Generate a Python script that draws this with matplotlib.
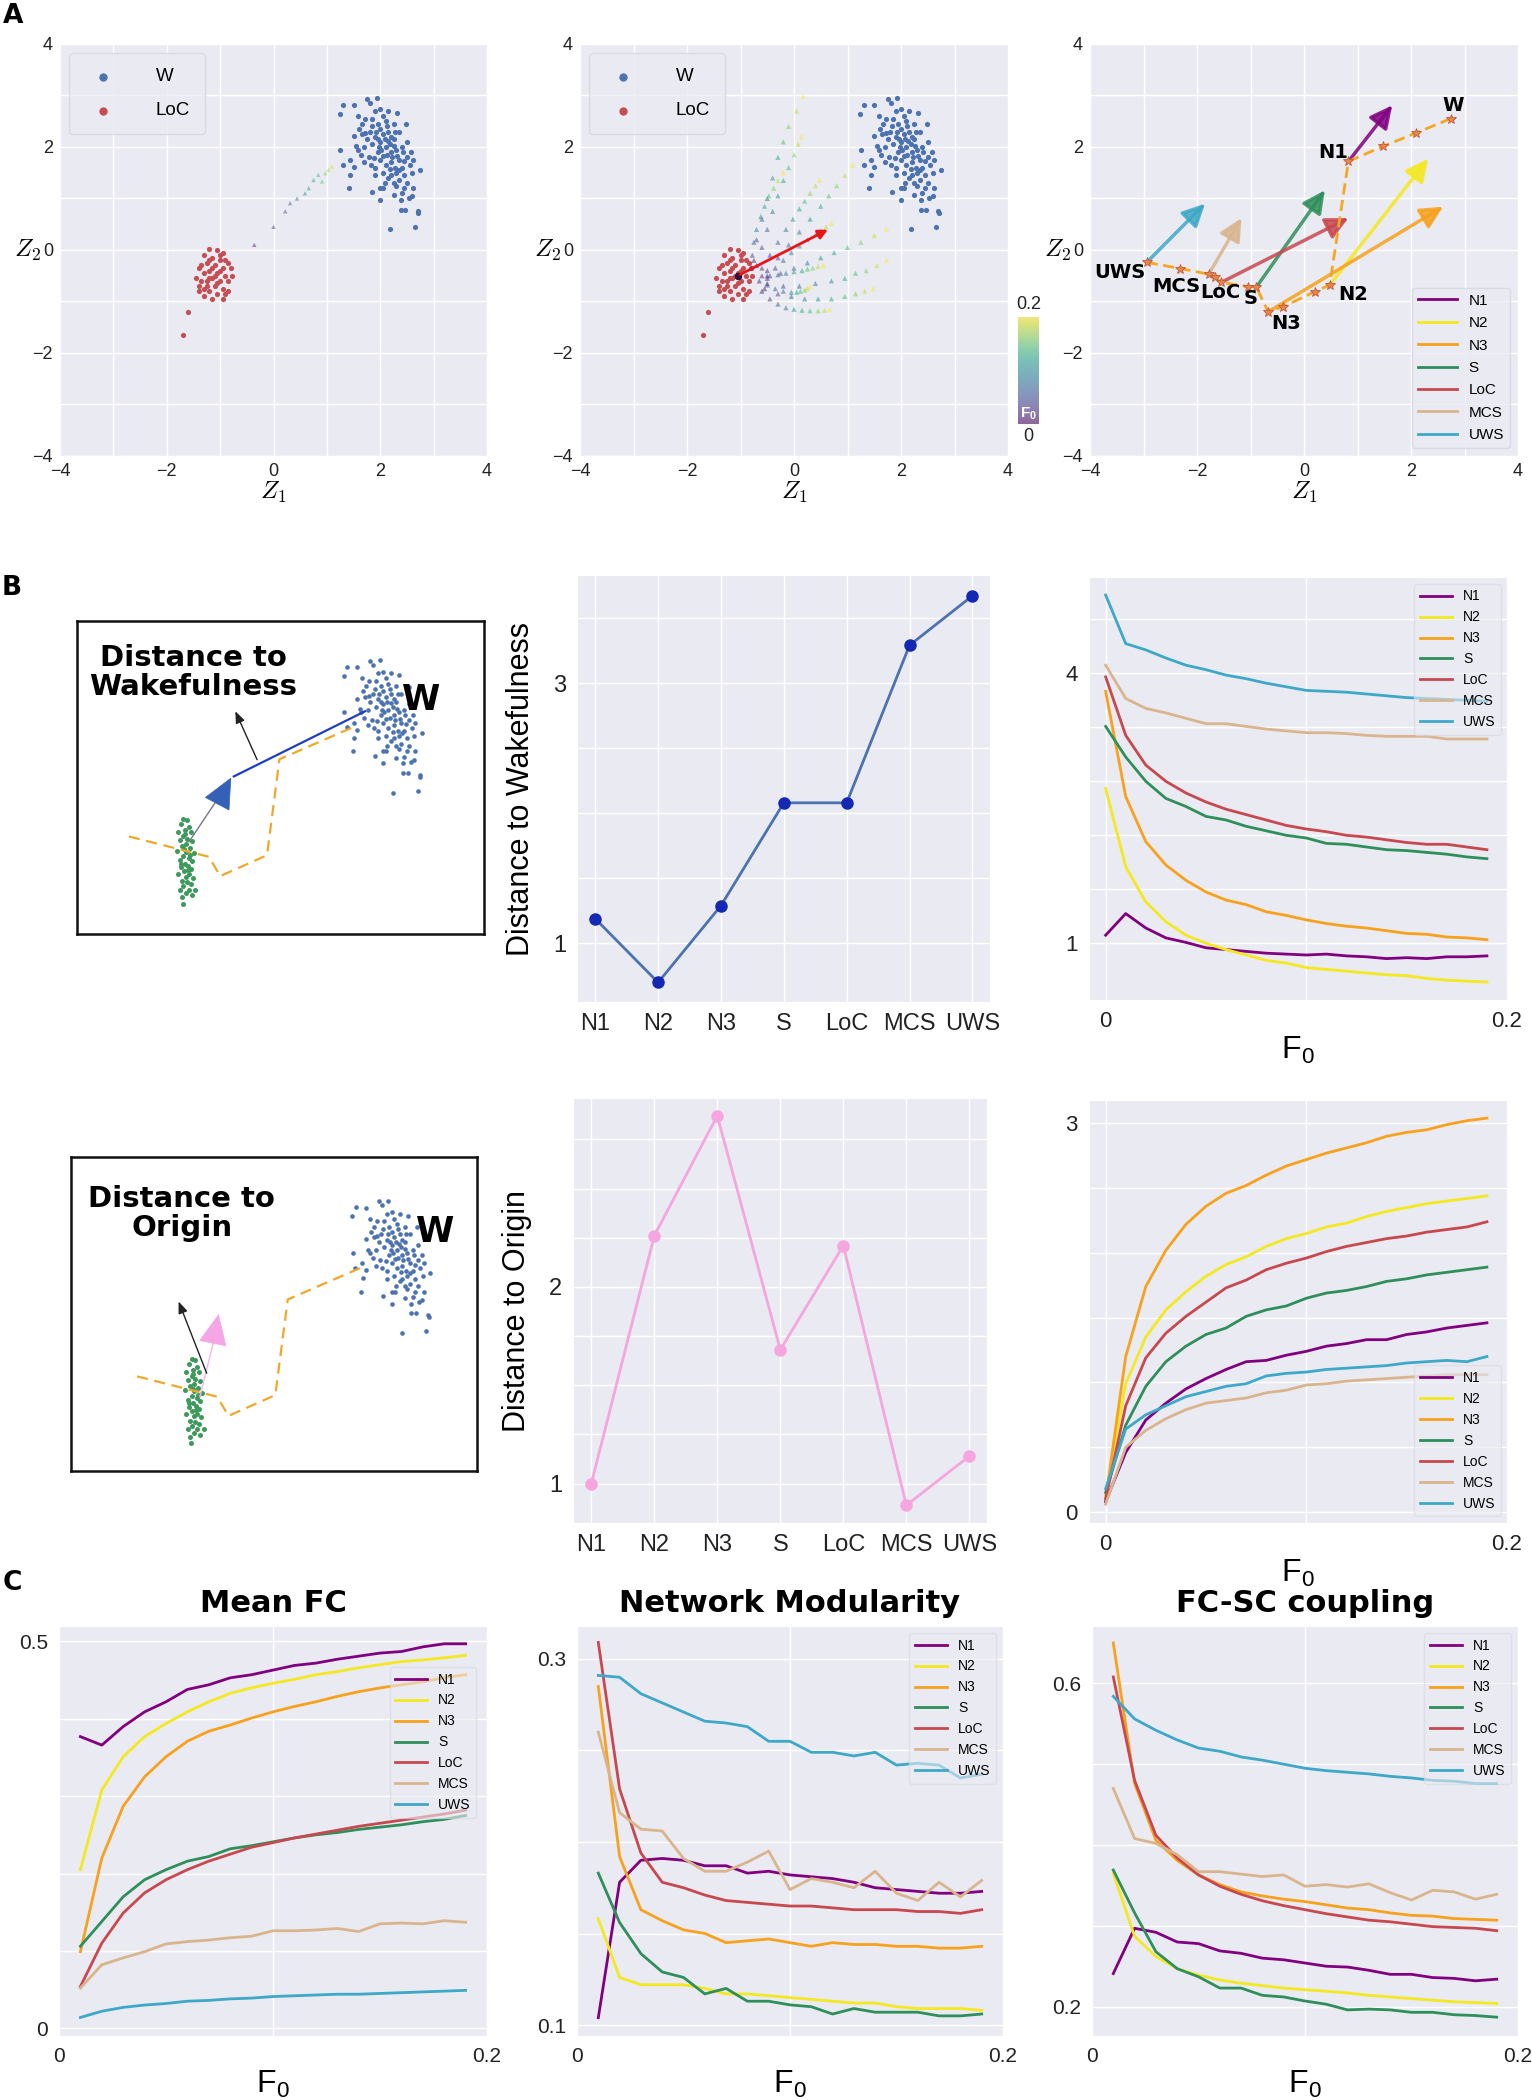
import matplotlib
matplotlib.use("Agg")
import matplotlib.pyplot as plt
from matplotlib.colors import ListedColormap, Normalize
from matplotlib.cm import ScalarMappable
import numpy as np

plt.rcParams['font.family'] = ['Liberation Sans', 'DejaVu Sans']
plt.rcParams['mathtext.fontset'] = 'cm'
plt.rcParams['axes.facecolor'] = '#eaeaf2'
plt.rcParams['axes.edgecolor'] = 'white'
plt.rcParams['axes.grid'] = True
plt.rcParams['axes.axisbelow'] = True
plt.rcParams['grid.color'] = 'white'
plt.rcParams['grid.linewidth'] = 1.0
plt.rcParams['xtick.major.size'] = 0
plt.rcParams['ytick.major.size'] = 0
plt.rcParams['xtick.color'] = '#222222'
plt.rcParams['ytick.color'] = '#222222'
plt.rcParams['legend.edgecolor'] = '#d6d6de'
plt.rcParams['legend.facecolor'] = '#eaeaf2'

# ---------------- data ----------------
states = ['N1', 'N2', 'N3', 'S', 'LoC', 'MCS', 'UWS']
state_colors = ['#800080', '#f4e820', '#f7a11c', '#2f8f5b', '#c8484f', '#d9b58e', '#3ea8c8']

# panel A: latent space clouds
w_points = [(1.31, 2.82), (1.24, 2.65), (1.50, 2.81), (1.75, 2.94), (1.93, 2.95), (1.81, 2.86),
            (2.00, 2.73), (2.31, 2.66), (2.49, 2.44), (1.25, 1.95), (1.30, 1.66), (1.41, 1.20),
            (1.84, 1.12), (2.00, 0.97), (2.19, 0.40), (2.38, 0.78), (2.47, 0.78), (2.66, 0.45),
            (2.71, 0.71), (2.70, 0.75), (2.74, 1.55), (2.62, 1.20), (2.59, 1.04), (2.53, 1.00),
            (2.38, 0.97), (2.25, 1.07), (2.06, 1.20), (1.43, 1.75), (1.44, 1.46), (1.50, 1.62),
            (1.59, 2.60), (1.66, 2.45), (1.72, 2.27), (1.50, 2.21), (1.55, 2.01), (1.63, 1.85),
            (1.80, 2.30), (1.90, 2.20), (2.00, 2.10), (2.10, 2.00), (2.20, 1.90), (1.95, 1.90),
            (2.05, 2.25), (2.15, 2.30), (1.85, 2.05), (1.75, 2.15), (2.25, 2.15), (2.30, 1.95),
            (2.35, 1.75), (2.20, 1.70), (2.10, 1.65), (2.00, 1.75), (1.90, 1.60), (2.40, 1.60),
            (2.45, 1.45), (2.30, 1.50), (2.20, 1.45), (2.35, 1.35), (2.50, 1.30), (2.45, 1.20),
            (2.30, 1.25), (2.15, 1.40), (2.05, 1.50), (1.95, 2.45), (2.10, 2.50), (1.85, 2.55),
            (1.70, 2.00), (1.65, 2.25), (2.40, 2.00), (2.50, 1.80), (2.55, 1.65), (2.60, 1.50),
            (2.00, 2.35), (1.78, 1.80), (2.25, 2.45), (1.90, 2.70), (2.05, 2.60), (2.20, 2.20),
            (2.12, 1.85), (1.98, 2.00), (2.28, 1.60), (2.18, 2.05), (2.42, 1.90), (1.60, 2.35),
            (1.72, 2.55), (2.35, 2.30), (2.50, 2.10), (2.62, 1.75), (2.08, 1.30), (1.90, 1.45),
            (1.82, 1.65), (2.58, 1.90), (2.00, 1.20), (2.40, 1.10), (1.70, 1.70), (2.15, 2.70),
            (1.58, 1.95), (2.25, 1.30), (2.08, 2.15), (1.92, 2.30), (2.32, 1.82), (2.18, 1.58),
            (2.02, 1.95), (2.14, 2.12), (2.26, 2.02), (1.88, 1.78), (2.36, 1.55), (2.22, 1.80),
            (1.96, 2.15), (2.06, 1.82), (2.44, 1.72), (1.84, 2.40), (2.12, 2.40), (2.28, 2.30)]

loc_points = [(-1.20, 0.02), (-1.05, 0.00), (-0.95, -0.05), (-1.30, -0.10), (-1.15, -0.15),
              (-1.00, -0.20), (-0.85, -0.25), (-1.25, -0.25), (-1.40, -0.35), (-1.10, -0.30),
              (-0.95, -0.35), (-0.80, -0.35), (-1.30, -0.45), (-1.20, -0.40), (-1.05, -0.45),
              (-0.90, -0.50), (-1.45, -0.55), (-1.35, -0.60), (-1.15, -0.55), (-1.00, -0.60),
              (-0.85, -0.60), (-1.25, -0.70), (-1.10, -0.70), (-0.95, -0.75), (-1.40, -0.80),
              (-1.20, -0.80), (-1.05, -0.85), (-0.90, -0.85), (-1.30, -0.90), (-1.15, -0.95),
              (-0.95, -0.95), (-1.00, -0.10), (-1.20, -0.55), (-1.05, -0.65), (-1.15, -0.35),
              (-1.25, -0.60), (-0.90, -0.20), (-1.35, -0.30), (-0.78, -0.50), (-1.40, -0.70),
              (-1.00, -0.40), (-1.10, -0.50), (-1.20, -0.20), (-0.85, -0.80), (-1.30, -0.75),
              (-1.60, -1.20), (-1.70, -1.65)]

# single LoC -> W trajectory (panel A, left)
a1_traj = [(-0.36, 0.10), (0.00, 0.45), (0.22, 0.75), (0.31, 0.91), (0.44, 1.00), (0.59, 1.10),
           (0.66, 1.20), (0.75, 1.36), (0.84, 1.46), (0.91, 1.33), (0.97, 1.49), (1.03, 1.56),
           (1.09, 1.62)]
a1_f0 = [0.01, 0.025, 0.04, 0.055, 0.07, 0.085, 0.10, 0.115, 0.13, 0.145, 0.16, 0.175, 0.19]

# fan of trajectories (panel A, middle)
traj_f0 = [0.02, 0.04, 0.06, 0.08, 0.10, 0.12, 0.14, 0.16, 0.18, 0.20]
trajs = [
    [(-0.75, -0.2), (-0.7, 0.2), (-0.6, 0.6), (-0.5, 1.0), (-0.4, 1.4), (-0.3, 1.8), (-0.2, 2.1), (-0.1, 2.4), (0.05, 2.7), (0.17, 2.98)],
    [(-0.7, -0.3), (-0.6, 0.05), (-0.5, 0.4), (-0.4, 0.75), (-0.3, 1.05), (-0.2, 1.35), (-0.1, 1.6), (0.0, 1.85), (0.08, 2.05), (0.14, 2.2)],
    [(-0.8, -0.35), (-0.78, -0.1), (-0.75, 0.15), (-0.7, 0.4), (-0.62, 0.65), (-0.55, 0.85), (-0.47, 1.05), (-0.38, 1.2), (-0.3, 1.35), (-0.2, 1.5)],
    [(-0.6, -0.35), (-0.45, -0.1), (-0.3, 0.15), (-0.15, 0.4), (-0.02, 0.6), (0.1, 0.8), (0.2, 0.95), (0.3, 1.1), (0.4, 1.25), (0.48, 1.36)],
    [(-0.5, -0.4), (-0.3, -0.15), (-0.1, 0.1), (0.1, 0.35), (0.3, 0.6), (0.5, 0.85), (0.65, 1.05), (0.8, 1.25), (0.95, 1.45), (1.1, 1.65)],
    [(-0.5, -0.5), (-0.35, -0.35), (-0.2, -0.2), (-0.05, -0.05), (0.1, 0.08), (0.25, 0.2), (0.4, 0.3), (0.5, 0.38), (0.6, 0.45), (0.7, 0.52)],
    [(-0.5, -0.55), (-0.25, -0.45), (0.0, -0.35), (0.25, -0.25), (0.5, -0.15), (0.75, -0.05), (1.0, 0.05), (1.25, 0.15), (1.5, 0.28), (1.73, 0.4)],
    [(-0.5, -0.65), (-0.2, -0.7), (0.1, -0.7), (0.4, -0.65), (0.7, -0.6), (0.95, -0.55), (1.15, -0.45), (1.35, -0.4), (1.55, -0.3), (1.73, -0.2)],
    [(-0.55, -0.75), (-0.3, -0.85), (-0.05, -0.9), (0.2, -0.95), (0.45, -0.95), (0.7, -0.95), (0.95, -0.9), (1.15, -0.85), (1.32, -0.8), (1.48, -0.75)],
    [(-0.6, -0.8), (-0.45, -0.95), (-0.3, -1.05), (-0.15, -1.12), (0.0, -1.15), (0.15, -1.17), (0.3, -1.18), (0.45, -1.18), (0.57, -1.17), (0.67, -1.16)],
    [(-0.65, -0.6), (-0.5, -0.68), (-0.35, -0.75), (-0.2, -0.8), (-0.05, -0.82), (0.05, -0.82), (0.12, -0.8), (0.2, -0.78), (0.25, -0.75), (0.3, -0.71)],
    [(-0.6, -0.5), (-0.45, -0.5), (-0.3, -0.48), (-0.15, -0.45), (0.0, -0.42), (0.15, -0.4), (0.25, -0.37), (0.35, -0.35), (0.45, -0.32), (0.55, -0.3)],
]
loc_arrow = [(-1.05, -0.50), (0.68, 0.42)]

# panel A right: state centroids, perturbation arrow tips, and the path
arrow_start = [(0.83, 1.72), (0.48, -0.68), (-0.67, -1.20), (-0.89, -0.72), (-1.55, -0.63), (-1.78, -0.47), (-2.94, -0.24)]
arrow_tip = [(1.65, 2.81), (2.32, 1.77), (2.60, 0.84), (0.39, 1.16), (0.83, 0.62), (-1.17, 0.62), (-1.85, 0.90)]
path_x = [-2.94, -2.31, -1.78, -1.67, -1.55, -1.04, -0.89, -0.67, -0.39, 0.20, 0.48, 0.83, 1.47, 2.09, 2.74]
path_y = [-0.24, -0.36, -0.47, -0.52, -0.63, -0.71, -0.72, -1.20, -1.10, -0.81, -0.68, 1.72, 2.01, 2.27, 2.55]
stage_labels = ['W', 'N1', 'N2', 'N3', 'S', 'LoC', 'MCS', 'UWS']
label_xy = [(2.79, 2.80), (0.55, 1.90), (0.92, -0.86), (-0.33, -1.42), (-1.00, -0.95), (-1.57, -0.82), (-2.38, -0.70), (-3.44, -0.44)]

# panel B schematic: sick-state cloud and dashed path
green_points = [(-1.85, -0.10), (-1.78, -0.12), (-1.90, -0.20), (-1.75, -0.25), (-1.82, -0.30), (-1.95, -0.35),
                (-1.70, -0.35), (-1.85, -0.42), (-1.78, -0.48), (-1.92, -0.50), (-1.68, -0.52), (-1.80, -0.58),
                (-1.88, -0.62), (-1.72, -0.65), (-1.98, -0.70), (-1.80, -0.72), (-1.65, -0.75), (-1.85, -0.80),
                (-1.75, -0.85), (-1.92, -0.88), (-1.68, -0.90), (-1.82, -0.95), (-1.76, -1.00), (-1.90, -1.02),
                (-1.70, -1.05), (-1.84, -1.10), (-1.95, -1.15), (-1.74, -1.15), (-1.80, -1.20), (-1.66, -1.22),
                (-1.88, -1.28), (-1.78, -1.30), (-1.70, -1.35), (-1.85, -1.38), (-1.75, -1.45), (-1.92, -1.45),
                (-1.62, -1.45), (-1.80, -1.52), (-1.88, -1.60), (-1.68, -1.55), (-1.86, -1.72), (-1.82, -0.38),
                (-1.73, -0.78), (-1.90, -0.95), (-1.77, -1.08), (-1.83, -0.68)]
sch_path_x = [-2.90, -1.36, -1.14, -0.24, 0.00, 1.50]
sch_path_y = [-0.43, -0.82, -1.19, -0.79, 1.05, 1.70]

# panel B: distances per state
dist_wake = [1.19, 0.70, 1.29, 2.08, 2.08, 3.29, 3.67]
dist_origin = [1.00, 2.26, 2.87, 1.68, 2.21, 0.89, 1.14]

f0_b = [0.00, 0.01, 0.02, 0.03, 0.04, 0.05, 0.06, 0.07, 0.08, 0.09,
        0.10, 0.11, 0.12, 0.13, 0.14, 0.15, 0.16, 0.17, 0.18, 0.19]
wake_n1 = [1.09, 1.33, 1.17, 1.06, 1.01, 0.95, 0.93, 0.91, 0.89, 0.88, 0.87, 0.88, 0.86, 0.85, 0.83, 0.84, 0.83, 0.85, 0.85, 0.86]
wake_n2 = [2.72, 1.85, 1.46, 1.24, 1.09, 1.00, 0.93, 0.87, 0.81, 0.78, 0.73, 0.71, 0.69, 0.67, 0.65, 0.64, 0.61, 0.59, 0.58, 0.57]
wake_n3 = [3.80, 2.63, 2.13, 1.87, 1.70, 1.57, 1.48, 1.43, 1.35, 1.31, 1.26, 1.22, 1.19, 1.17, 1.14, 1.11, 1.10, 1.07, 1.06, 1.04]
wake_s = [3.41, 3.07, 2.80, 2.61, 2.52, 2.41, 2.37, 2.30, 2.25, 2.20, 2.17, 2.11, 2.10, 2.07, 2.04, 2.03, 2.01, 1.99, 1.96, 1.94]
wake_loc = [3.96, 3.31, 2.98, 2.80, 2.67, 2.57, 2.49, 2.43, 2.37, 2.31, 2.27, 2.24, 2.20, 2.18, 2.15, 2.12, 2.10, 2.10, 2.07, 2.04]
wake_mcs = [4.09, 3.72, 3.61, 3.56, 3.50, 3.44, 3.44, 3.41, 3.38, 3.36, 3.34, 3.34, 3.33, 3.31, 3.30, 3.30, 3.30, 3.27, 3.27, 3.27]
wake_uws = [4.87, 4.33, 4.26, 4.17, 4.09, 4.04, 3.98, 3.94, 3.89, 3.85, 3.81, 3.80, 3.79, 3.77, 3.75, 3.73, 3.72, 3.71, 3.70, 3.69]

origin_n1 = [0.08, 0.46, 0.71, 0.84, 0.95, 1.03, 1.10, 1.16, 1.17, 1.21, 1.24, 1.28, 1.30, 1.33, 1.33, 1.37, 1.39, 1.42, 1.44, 1.46]
origin_n2 = [0.13, 0.99, 1.35, 1.56, 1.70, 1.82, 1.91, 1.97, 2.05, 2.11, 2.15, 2.20, 2.23, 2.28, 2.32, 2.35, 2.38, 2.40, 2.42, 2.44]
origin_n3 = [0.10, 1.20, 1.74, 2.02, 2.22, 2.36, 2.46, 2.52, 2.60, 2.67, 2.72, 2.77, 2.81, 2.85, 2.90, 2.93, 2.95, 2.99, 3.02, 3.04]
origin_s = [0.15, 0.67, 0.97, 1.16, 1.28, 1.37, 1.42, 1.51, 1.56, 1.59, 1.65, 1.69, 1.71, 1.74, 1.78, 1.80, 1.83, 1.85, 1.87, 1.89]
origin_loc = [0.10, 0.82, 1.19, 1.38, 1.51, 1.62, 1.73, 1.79, 1.87, 1.92, 1.96, 2.01, 2.05, 2.08, 2.11, 2.13, 2.16, 2.18, 2.20, 2.24]
origin_mcs = [0.06, 0.50, 0.63, 0.72, 0.79, 0.84, 0.86, 0.88, 0.92, 0.94, 0.98, 0.99, 1.01, 1.02, 1.03, 1.04, 1.05, 1.06, 1.06, 1.06]
origin_uws = [0.18, 0.64, 0.75, 0.82, 0.89, 0.93, 0.97, 0.99, 1.05, 1.07, 1.08, 1.10, 1.11, 1.12, 1.13, 1.15, 1.16, 1.17, 1.16, 1.20]

# panel C: graph metrics vs F0
f0_c = [0.01, 0.02, 0.03, 0.04, 0.05, 0.06, 0.07, 0.08, 0.09, 0.10,
        0.11, 0.12, 0.13, 0.14, 0.15, 0.16, 0.17, 0.18, 0.19]
fc_n1 = [0.377, 0.366, 0.390, 0.409, 0.422, 0.438, 0.444, 0.453, 0.457, 0.463, 0.469, 0.472, 0.477, 0.481, 0.485, 0.487, 0.493, 0.497, 0.497]
fc_n2 = [0.205, 0.308, 0.351, 0.377, 0.394, 0.409, 0.422, 0.433, 0.440, 0.446, 0.451, 0.457, 0.461, 0.466, 0.470, 0.474, 0.476, 0.479, 0.482]
fc_n3 = [0.099, 0.220, 0.287, 0.325, 0.351, 0.371, 0.384, 0.392, 0.401, 0.409, 0.416, 0.422, 0.429, 0.435, 0.440, 0.444, 0.448, 0.453, 0.457]
fc_s = [0.106, 0.138, 0.170, 0.192, 0.205, 0.216, 0.222, 0.232, 0.236, 0.241, 0.246, 0.250, 0.253, 0.257, 0.260, 0.263, 0.267, 0.270, 0.275]
fc_loc = [0.054, 0.110, 0.149, 0.175, 0.192, 0.205, 0.216, 0.225, 0.234, 0.240, 0.246, 0.251, 0.256, 0.261, 0.265, 0.269, 0.273, 0.277, 0.282]
fc_mcs = [0.052, 0.082, 0.091, 0.099, 0.109, 0.112, 0.114, 0.117, 0.119, 0.126, 0.126, 0.127, 0.129, 0.125, 0.135, 0.136, 0.135, 0.139, 0.137]
fc_uws = [0.014, 0.022, 0.027, 0.030, 0.032, 0.035, 0.036, 0.038, 0.039, 0.041, 0.042, 0.043, 0.044, 0.044, 0.045, 0.046, 0.047, 0.048, 0.049]

mod_n1 = [0.104, 0.178, 0.190, 0.191, 0.190, 0.187, 0.187, 0.183, 0.184, 0.182, 0.181, 0.180, 0.178, 0.175, 0.174, 0.173, 0.172, 0.172, 0.173]
mod_n2 = [0.158, 0.126, 0.122, 0.122, 0.122, 0.120, 0.117, 0.117, 0.116, 0.115, 0.114, 0.113, 0.112, 0.112, 0.110, 0.109, 0.109, 0.109, 0.108]
mod_n3 = [0.285, 0.192, 0.163, 0.157, 0.152, 0.150, 0.145, 0.146, 0.147, 0.145, 0.143, 0.145, 0.144, 0.144, 0.143, 0.143, 0.142, 0.142, 0.143]
mod_s = [0.183, 0.156, 0.139, 0.129, 0.126, 0.117, 0.120, 0.113, 0.113, 0.111, 0.110, 0.106, 0.109, 0.107, 0.107, 0.107, 0.105, 0.105, 0.106]
mod_loc = [0.309, 0.229, 0.194, 0.178, 0.175, 0.171, 0.168, 0.167, 0.166, 0.165, 0.165, 0.164, 0.163, 0.163, 0.163, 0.162, 0.162, 0.161, 0.163]
mod_mcs = [0.260, 0.216, 0.207, 0.206, 0.191, 0.184, 0.184, 0.189, 0.195, 0.174, 0.180, 0.178, 0.175, 0.184, 0.172, 0.168, 0.178, 0.170, 0.179]
mod_uws = [0.291, 0.290, 0.281, 0.276, 0.271, 0.266, 0.265, 0.263, 0.255, 0.255, 0.249, 0.249, 0.247, 0.249, 0.242, 0.243, 0.242, 0.235, 0.237]

cpl_n1 = [0.241, 0.297, 0.292, 0.280, 0.278, 0.269, 0.266, 0.260, 0.258, 0.254, 0.250, 0.249, 0.245, 0.240, 0.240, 0.236, 0.235, 0.232, 0.234]
cpl_n2 = [0.365, 0.287, 0.262, 0.247, 0.239, 0.233, 0.229, 0.226, 0.223, 0.221, 0.219, 0.217, 0.214, 0.212, 0.210, 0.208, 0.206, 0.205, 0.204]
cpl_n3 = [0.650, 0.476, 0.406, 0.381, 0.363, 0.351, 0.342, 0.337, 0.333, 0.330, 0.326, 0.322, 0.320, 0.316, 0.313, 0.312, 0.309, 0.308, 0.307]
cpl_s = [0.369, 0.316, 0.268, 0.247, 0.237, 0.223, 0.223, 0.214, 0.212, 0.207, 0.203, 0.196, 0.197, 0.196, 0.193, 0.193, 0.190, 0.189, 0.187]
cpl_loc = [0.608, 0.480, 0.412, 0.384, 0.363, 0.349, 0.339, 0.331, 0.325, 0.320, 0.315, 0.311, 0.307, 0.305, 0.302, 0.299, 0.298, 0.297, 0.294]
cpl_mcs = [0.470, 0.408, 0.402, 0.388, 0.367, 0.367, 0.364, 0.361, 0.363, 0.349, 0.351, 0.348, 0.352, 0.341, 0.332, 0.344, 0.342, 0.333, 0.339]
cpl_uws = [0.584, 0.556, 0.542, 0.530, 0.520, 0.516, 0.509, 0.505, 0.500, 0.495, 0.492, 0.490, 0.488, 0.485, 0.483, 0.480, 0.479, 0.476, 0.476]

wake_curves = [wake_n1, wake_n2, wake_n3, wake_s, wake_loc, wake_mcs, wake_uws]
origin_curves = [origin_n1, origin_n2, origin_n3, origin_s, origin_loc, origin_mcs, origin_uws]
fc_curves = [fc_n1, fc_n2, fc_n3, fc_s, fc_loc, fc_mcs, fc_uws]
mod_curves = [mod_n1, mod_n2, mod_n3, mod_s, mod_loc, mod_mcs, mod_uws]
cpl_curves = [cpl_n1, cpl_n2, cpl_n3, cpl_s, cpl_loc, cpl_mcs, cpl_uws]

# ---------------- figure ----------------
FW, FH = 1532, 2100
fig = plt.figure(figsize=(FW / 100, FH / 100), dpi=100, facecolor='white')


def place(x0, y0, x1, y1):
    return fig.add_axes([x0 / FW, 1 - y1 / FH, (x1 - x0) / FW, (y1 - y0) / FH])


F0_LABEL = r'F$_\mathregular{0}$'
blue_w = '#4c72b0'
red_loc = '#c44e52'


def z_axes(ax):
    ax.set_xlim(-4, 4)
    ax.set_ylim(-4, 4)
    t = [-4, -3, -2, -1, 0, 1, 2, 3, 4]
    lab = ['\u22124', '', '\u22122', '', '0', '', '2', '', '4']
    ax.set_xticks(t)
    ax.set_xticklabels(lab)
    ax.set_yticks(t)
    ax.set_yticklabels(lab)
    ax.tick_params(labelsize=13, pad=5)
    ax.set_xlabel(r'$\mathit{Z_1}$', fontsize=18, labelpad=0)
    ax.set_ylabel(r'$\mathit{Z_2}$', fontsize=18, rotation=0, labelpad=4, va='center')


wx, wy = zip(*w_points)
lx, ly = zip(*loc_points)

# A left
ax = place(60, 44, 487, 456)
z_axes(ax)
ax.scatter(wx, wy, s=14, color=blue_w, lw=0, label='W', zorder=3)
ax.scatter(lx, ly, s=14, color=red_loc, lw=0, label='LoC', zorder=3)
tx, ty = zip(*a1_traj)
ax.scatter(tx, ty, c=a1_f0, cmap='viridis', vmin=0, vmax=0.2, marker='^', s=10, alpha=0.45, lw=0, zorder=4)
ax.legend(loc='upper left', fontsize=13.5, markerscale=1.6, handletextpad=1.8, borderpad=0.8,
          labelspacing=0.9, frameon=True)

# A middle
ax = place(580, 44, 1008, 456)
z_axes(ax)
ax.scatter(wx, wy, s=14, color=blue_w, lw=0, label='W', zorder=3)
ax.scatter(lx, ly, s=14, color=red_loc, lw=0, label='LoC', zorder=3)
for tr in trajs:
    px, py = zip(*tr)
    ax.scatter(px, py, c=traj_f0, cmap='viridis', vmin=0, vmax=0.2, marker='^', s=14, alpha=0.5, lw=0, zorder=4)
ax.annotate('', xy=loc_arrow[1], xytext=loc_arrow[0],
            arrowprops=dict(arrowstyle='-|>', color='#e8141c', lw=2, mutation_scale=14), zorder=6)
ax.scatter([loc_arrow[0][0]], [loc_arrow[0][1]], s=20, color='#30103a', zorder=5)
ax.legend(loc='upper left', fontsize=13.5, markerscale=1.6, handletextpad=1.8, borderpad=0.8,
          labelspacing=0.9, frameon=True)

# colorbar between A middle and A right
vir = plt.get_cmap('viridis')(np.linspace(0, 1, 256))
pale = vir * 0.55 + 0.45 * np.array([0.90, 0.88, 0.95, 1.0])
cax = place(1018, 317, 1039, 424)
cb = fig.colorbar(ScalarMappable(norm=Normalize(0, 0.2), cmap=ListedColormap(pale)), cax=cax)
cb.set_ticks([])
cb.outline.set_visible(False)
cax.text(0.5, 1.04, '0.2', transform=cax.transAxes, ha='center', va='bottom', fontsize=13, color='#222222')
cax.text(0.5, -0.04, '0', transform=cax.transAxes, ha='center', va='top', fontsize=13, color='#222222')
cax.text(0.5, 0.1, F0_LABEL, transform=cax.transAxes, ha='center', va='center', fontsize=11,
         color='white', fontweight='bold')

# A right
ax = place(1090, 44, 1518, 456)
z_axes(ax)
for i, st in enumerate(states):
    ax.annotate('', xy=arrow_tip[i], xytext=arrow_start[i],
                arrowprops=dict(arrowstyle='-|>,head_length=0.8,head_width=0.4', color=state_colors[i],
                                lw=2.5, alpha=0.85, mutation_scale=17, shrinkA=0, shrinkB=0), zorder=4)
    ax.plot([], [], color=state_colors[i], lw=2, label=st)
ax.plot(path_x, path_y, color='#f5a623', lw=2, ls=(0, (4, 2)), zorder=5)
ax.plot(path_x, path_y, ls='none', marker='*', ms=7, mfc='#e8864a', mec='#c05a3a', mew=0.6, zorder=6)
for lab, (x, y) in zip(stage_labels, label_xy):
    ax.text(x, y, lab, fontsize=14, fontweight='bold', ha='center', va='center',
            family='DejaVu Sans', color='black', zorder=7)
ax.legend(loc='lower right', fontsize=11, handlelength=2.5, labelspacing=0.55, frameon=True)


# B schematics
def schematic(ax, xlim, ylim):
    ax.set_xlim(*xlim)
    ax.set_ylim(*ylim)
    ax.set_facecolor('white')
    ax.grid(False)
    ax.set_xticks([])
    ax.set_yticks([])
    for sp in ax.spines.values():
        sp.set_visible(True)
        sp.set_color('#111111')
        sp.set_linewidth(1.8)
    gx, gy = zip(*green_points)
    ax.scatter(wx, wy, s=11, color=blue_w, lw=0, zorder=3)
    ax.scatter(gx, gy, s=13, color='#3d9a5c', lw=0, zorder=3)
    ax.plot(sch_path_x, sch_path_y, color='#f0a828', lw=1.6, ls=(0, (5, 3)), zorder=4)


ax = place(77, 621, 484, 934)
schematic(ax, (-3.9, 3.94), (-2.3, 3.7))
ax.plot([-0.88, 1.65], [0.72, 1.97], color='#1f3fbf', lw=1.6, zorder=5)
ax.plot([-1.74, -1.05], [-0.53, 0.50], color='#777788', lw=1.0, zorder=5)
ax.annotate('', xy=(-0.93, 0.70), xytext=(-1.08, 0.42),
            arrowprops=dict(arrowstyle='-|>,head_length=1.3,head_width=0.6', color='#3560b8', lw=0.5,
                            mutation_scale=16, shrinkA=0, shrinkB=0), zorder=6)
ax.annotate('', xy=(-0.85, 1.97), xytext=(-0.43, 1.04),
            arrowprops=dict(arrowstyle='-|>,head_length=0.5,head_width=0.2', color='#222222', lw=1.0,
                            mutation_scale=14, shrinkA=0, shrinkB=0), zorder=6)
ax.text(-1.66, 2.71, 'Distance to\nWakefulness', fontsize=21, fontweight='bold', family='DejaVu Sans',
        ha='center', va='center', linespacing=1.05)
ax.text(2.72, 2.19, 'W', fontsize=25, fontweight='bold', family='DejaVu Sans', ha='center', va='center')

ax = place(71, 1157, 477, 1471)
schematic(ax, (-4.17, 3.64), (-2.25, 3.79))
ax.plot([-1.69, -1.40], [-0.82, 0.35], color='#f4b8ea', lw=1.0, zorder=5)
ax.annotate('', xy=(-1.33, 0.77), xytext=(-1.42, 0.32),
            arrowprops=dict(arrowstyle='-|>,head_length=1.3,head_width=0.6', color='#f5a6e6', lw=0.5,
                            mutation_scale=16, shrinkA=0, shrinkB=0), zorder=6)
ax.annotate('', xy=(-2.10, 1.01), xytext=(-1.56, -0.37),
            arrowprops=dict(arrowstyle='-|>,head_length=0.5,head_width=0.2', color='#222222', lw=1.0,
                            mutation_scale=14, shrinkA=0, shrinkB=0), zorder=6)
ax.text(-2.04, 2.71, 'Distance to\nOrigin', fontsize=21, fontweight='bold', family='DejaVu Sans',
        ha='center', va='center', linespacing=1.05)
ax.text(2.84, 2.35, 'W', fontsize=25, fontweight='bold', family='DejaVu Sans', ha='center', va='center')


# B distance-by-state plots
def state_plot(ax, vals, line_c, mark_c, ylim, yt, ylab, ylabel):
    ax.plot(range(len(states)), vals, color=line_c, lw=2, marker='o', ms=8, mfc=mark_c, mec=mark_c)
    ax.set_xticks(range(len(states)))
    ax.set_xticklabels(states)
    ax.set_xlim(-0.29, 6.28)
    ax.set_ylim(*ylim)
    ax.set_yticks(yt)
    ax.set_yticklabels(ylab)
    ax.tick_params(labelsize=17, pad=8)
    ax.set_ylabel(ylabel, fontsize=22, labelpad=12)


ax = place(577, 575, 990, 1002)
state_plot(ax, dist_wake, '#4c72b0', '#1428b4', (0.55, 3.83), [1, 1.5, 2, 2.5, 3, 3.5],
           ['1', '', '', '', '3', ''], 'Distance to Wakefulness')
ax = place(573, 1098, 987, 1523)
state_plot(ax, dist_origin, '#f5a6de', '#f5a6de', (0.80, 2.96), [1, 1.25, 1.5, 1.75, 2, 2.25, 2.5, 2.75],
           ['1', '', '', '', '2', '', '', ''], 'Distance to Origin')


def curve_plot(ax, x, curves, xlim, ylim, yt, ylab, legend_kw, tick_size=16):
    for i, st in enumerate(states):
        ax.plot(x, curves[i], color=state_colors[i], lw=2, label=st)
    ax.set_xlim(*xlim)
    ax.set_ylim(*ylim)
    ax.set_xticks([0, 0.1, 0.2])
    ax.set_xticklabels(['0', '', '0.2'])
    ax.set_yticks(yt)
    ax.set_yticklabels(ylab)
    ax.tick_params(labelsize=tick_size, pad=8)
    ax.set_xlabel(F0_LABEL, fontsize=23, labelpad=2)
    ax.legend(fontsize=10, handlelength=2.3, labelspacing=0.5, frameon=True, framealpha=0.6, **legend_kw)


ax = place(1089, 577, 1508, 1000)
curve_plot(ax, f0_b, wake_curves, (-0.0083, 0.2005), (0.37, 5.07), [1, 1.6, 2.2, 2.8, 3.4, 4, 4.6],
           ['1', '', '', '', '', '4', ''], dict(loc='upper right'))
ax = place(1089, 1100, 1508, 1523)
curve_plot(ax, f0_b, origin_curves, (-0.0083, 0.2005), (-0.085, 3.18), [0, 0.5, 1, 1.5, 2, 2.5, 3],
           ['0', '', '', '', '', '', '3'], dict(loc='lower right'))

# C
ax = place(59, 1626, 487, 2036)
curve_plot(ax, f0_c, fc_curves, (0, 0.2), (-0.01, 0.52), [0, 0.1, 0.2, 0.3, 0.4, 0.5],
           ['0', '', '', '', '', '0.5'], dict(loc='upper right', bbox_to_anchor=(0.975, 0.90), borderaxespad=0),
           tick_size=15)
ax.set_title('Mean FC', fontsize=22, fontweight='bold', family='DejaVu Sans', pad=10)

ax = place(577, 1626, 1003, 2036)
curve_plot(ax, f0_c, mod_curves, (0, 0.2), (0.094, 0.318), [0.1, 0.15, 0.2, 0.25, 0.3],
           ['0.1', '', '', '', '0.3'], dict(loc='upper right'), tick_size=15)
ax.set_title('Network Modularity', fontsize=22, fontweight='bold', family='DejaVu Sans', pad=10)

ax = place(1092, 1626, 1518, 2036)
curve_plot(ax, f0_c, cpl_curves, (0, 0.2), (0.1637, 0.671), [0.2, 0.3, 0.4, 0.5, 0.6],
           ['0.2', '', '', '', '0.6'], dict(loc='upper right'), tick_size=15)
ax.set_title('FC-SC coupling', fontsize=22, fontweight='bold', family='DejaVu Sans', pad=10)

# panel letters
for letter, (x, y) in zip(['A', 'B', 'C'], [(13, 16), (12, 588), (12, 1583)]):
    fig.text(x / FW, 1 - y / FH, letter, fontsize=19, fontweight='bold', family='DejaVu Sans',
             ha='center', va='center')

fig.savefig('out.png', dpi=100, facecolor='white')
